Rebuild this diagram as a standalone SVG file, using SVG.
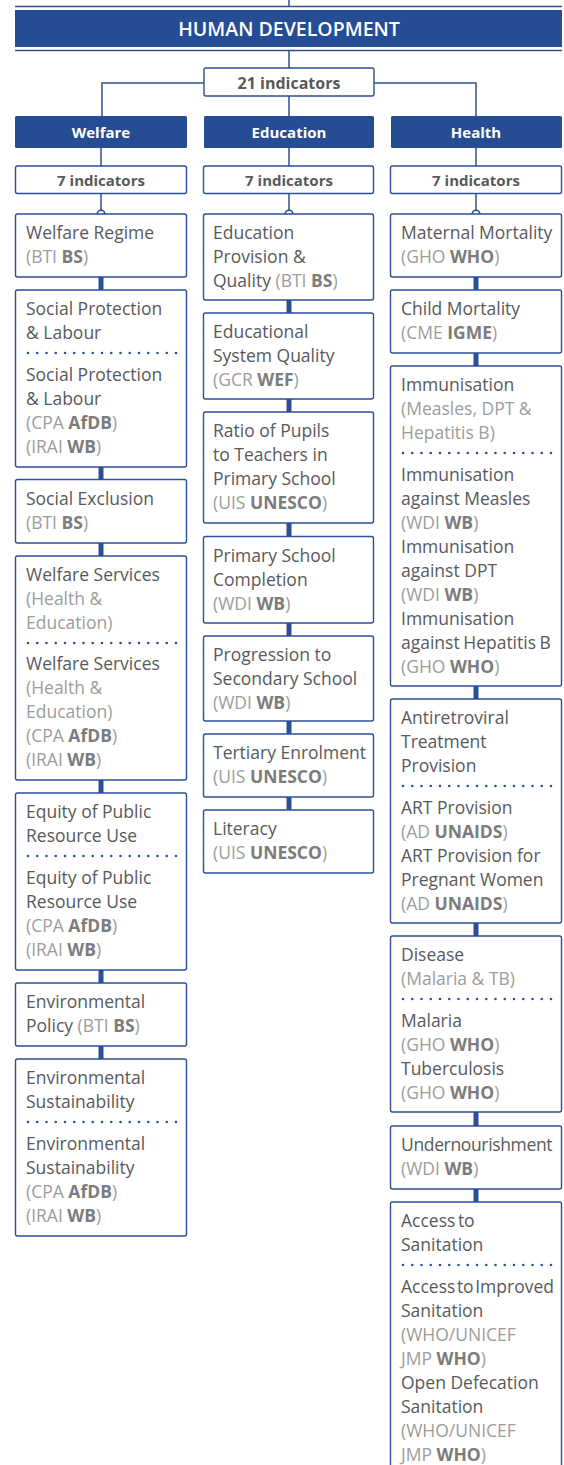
<svg xmlns="http://www.w3.org/2000/svg" width="564" height="1465" viewBox="0 0 564 1465">
<style>
.box{fill:#fff;stroke:#2b4f97;stroke-width:1.4}
.bar{fill:#264c93}
.t{font-family:"Open Sans","Noto Sans",sans-serif;font-size:17.5px;fill:#58595b}
.s{fill:#9c9c9c}
.b{font-weight:700;fill:#7c7c7c}
.hd{font-family:"Open Sans","Noto Sans",sans-serif;font-weight:700;fill:#fff;text-anchor:middle}
.ind{font-family:"Open Sans","Noto Sans",sans-serif;font-weight:700;fill:#58595b;text-anchor:middle}
.dots{stroke:#2b4f97;stroke-width:2.6;stroke-linecap:round;stroke-dasharray:0 9.25;fill:none}
.thick{stroke:#2b4f97;stroke-width:5;fill:none}
.thin{stroke:#2b4f97;stroke-width:1.5;fill:none}
.ring{fill:#fff;stroke:#2b4f97;stroke-width:1.6}
</style>
<g id="connectors">
<path class="thin" d="M289 0V7M289 50V68M204 83H102V116M374 83H476V116M289 96V116"/>
<path class="thin" d="M101 148V166M289 148V166M476 148V166M101 193.5V210M289 193.5V210M476 193.5V210"/>
<circle class="ring" cx="101" cy="214" r="3.8"/>
<circle class="ring" cx="289" cy="214" r="3.8"/>
<circle class="ring" cx="476" cy="214" r="3.8"/>
<path class="thick" d="M101 277V290M101 467V479.5M101 543V556M101 780V793M101 970V983M101 1046V1059"/>
<path class="thick" d="M289 300V313M289 399V412M289 523V536.5M289 623V636M289 721V734M289 797V810"/>
<path class="thick" d="M476 277V290M476 353V366M476 686V699M476 923V936M476 1112V1126M476 1189V1202"/>
</g>
<g id="header">
<path class="thin" d="M15 6.5H562M15 50.5H562"/>
<rect class="bar" x="15" y="10" width="547" height="37"/>
<text class="hd" x="289" y="35.5" style="font-size:19.5px;font-weight:600">HUMAN DEVELOPMENT</text>
</g>
<g id="total">
<rect class="box" x="204" y="68" width="170" height="28" rx="2"/>
<text class="ind" x="289" y="88.5" style="font-size:16px">21 indicators</text>
</g>
<g id="welfare-head">
<rect class="bar" x="15" y="116" width="172" height="32" rx="1.5"/>
<text class="hd" x="101" y="137.5" style="font-size:15px">Welfare</text>
</g>
<g id="education-head">
<rect class="bar" x="204" y="116" width="170" height="32" rx="1.5"/>
<text class="hd" x="289" y="137.5" style="font-size:15px">Education</text>
</g>
<g id="health-head">
<rect class="bar" x="391" y="116" width="171" height="32" rx="1.5"/>
<text class="hd" x="476" y="137.5" style="font-size:15px">Health</text>
</g>
<g id="welfare-count">
<rect class="box" x="15.5" y="166" width="171" height="27.5" rx="2"/>
<text class="ind" x="101" y="186" style="font-size:15px">7 indicators</text>
</g>
<g id="education-count">
<rect class="box" x="203.5" y="166" width="170" height="27.5" rx="2"/>
<text class="ind" x="289" y="186" style="font-size:15px">7 indicators</text>
</g>
<g id="health-count">
<rect class="box" x="390.5" y="166" width="171" height="27.5" rx="2"/>
<text class="ind" x="476" y="186" style="font-size:15px">7 indicators</text>
</g>

<g id="w1">
<rect class="box" x="15.5" y="214" width="171" height="63" rx="2"/>
<text class="t" x="26" y="239">Welfare Regime</text>
<text class="t s" x="26" y="263">(BTI <tspan class="b">BS</tspan>)</text>
</g>
<g id="w2">
<rect class="box" x="15.5" y="290" width="171" height="177" rx="2"/>
<text class="t" x="26" y="315">Social Protection</text>
<text class="t" x="26" y="339">&amp; Labour</text>
<path class="dots" d="M28 353H177"/>
<text class="t" x="26" y="381">Social Protection</text>
<text class="t" x="26" y="405">&amp; Labour</text>
<text class="t s" x="26" y="429">(CPA <tspan class="b">AfDB</tspan>)</text>
<text class="t s" x="26" y="453">(IRAI <tspan class="b">WB</tspan>)</text>
</g>
<g id="w3">
<rect class="box" x="15.5" y="479.5" width="171" height="63.5" rx="2"/>
<text class="t" x="26" y="505">Social Exclusion</text>
<text class="t s" x="26" y="529">(BTI <tspan class="b">BS</tspan>)</text>
</g>
<g id="w4">
<rect class="box" x="15.5" y="556" width="171" height="224" rx="2"/>
<text class="t" x="26" y="581">Welfare Services</text>
<text class="t s" x="26" y="605">(Health &amp;</text>
<text class="t s" x="26" y="629">Education)</text>
<path class="dots" d="M28 643H177"/>
<text class="t" x="26" y="670">Welfare Services</text>
<text class="t s" x="26" y="694">(Health &amp;</text>
<text class="t s" x="26" y="718">Education)</text>
<text class="t s" x="26" y="742">(CPA <tspan class="b">AfDB</tspan>)</text>
<text class="t s" x="26" y="766">(IRAI <tspan class="b">WB</tspan>)</text>
</g>
<g id="w5">
<rect class="box" x="15.5" y="793" width="171" height="177" rx="2"/>
<text class="t" x="26" y="818">Equity of Public</text>
<text class="t" x="26" y="842">Resource Use</text>
<path class="dots" d="M28 856H177"/>
<text class="t" x="26" y="884">Equity of Public</text>
<text class="t" x="26" y="908">Resource Use</text>
<text class="t s" x="26" y="932">(CPA <tspan class="b">AfDB</tspan>)</text>
<text class="t s" x="26" y="956">(IRAI <tspan class="b">WB</tspan>)</text>
</g>
<g id="w6">
<rect class="box" x="15.5" y="983" width="171" height="63" rx="2"/>
<text class="t" x="26" y="1008">Environmental</text>
<text class="t" x="26" y="1032">Policy <tspan class="s">(BTI <tspan class="b">BS</tspan>)</tspan></text>
</g>
<g id="w7">
<rect class="box" x="15.5" y="1059" width="171" height="177" rx="2"/>
<text class="t" x="26" y="1084">Environmental</text>
<text class="t" x="26" y="1108">Sustainability</text>
<path class="dots" d="M28 1122H177"/>
<text class="t" x="26" y="1150">Environmental</text>
<text class="t" x="26" y="1174">Sustainability</text>
<text class="t s" x="26" y="1198">(CPA <tspan class="b">AfDB</tspan>)</text>
<text class="t s" x="26" y="1222">(IRAI <tspan class="b">WB</tspan>)</text>
</g>

<g id="e1">
<rect class="box" x="203.5" y="214" width="170" height="86" rx="2"/>
<text class="t" x="213" y="239">Education</text>
<text class="t" x="213" y="263">Provision &amp;</text>
<text class="t" x="213" y="287">Quality <tspan class="s">(BTI <tspan class="b">BS</tspan>)</tspan></text>
</g>
<g id="e2">
<rect class="box" x="203.5" y="313" width="170" height="86" rx="2"/>
<text class="t" x="213" y="338">Educational</text>
<text class="t" x="213" y="362">System Quality</text>
<text class="t s" x="213" y="386">(GCR <tspan class="b">WEF</tspan>)</text>
</g>
<g id="e3">
<rect class="box" x="203.5" y="412" width="170" height="111" rx="2"/>
<text class="t" x="213" y="437">Ratio of Pupils</text>
<text class="t" x="213" y="461">to Teachers in</text>
<text class="t" x="213" y="485">Primary School</text>
<text class="t s" x="213" y="509">(UIS <tspan class="b">UNESCO</tspan>)</text>
</g>
<g id="e4">
<rect class="box" x="203.5" y="536.5" width="170" height="86.5" rx="2"/>
<text class="t" x="213" y="561.5">Primary School</text>
<text class="t" x="213" y="585.5">Completion</text>
<text class="t s" x="213" y="609.5">(WDI <tspan class="b">WB</tspan>)</text>
</g>
<g id="e5">
<rect class="box" x="203.5" y="636" width="170" height="85" rx="2"/>
<text class="t" x="213" y="661">Progression to</text>
<text class="t" x="213" y="685">Secondary School</text>
<text class="t s" x="213" y="709">(WDI <tspan class="b">WB</tspan>)</text>
</g>
<g id="e6">
<rect class="box" x="203.5" y="734" width="170" height="63" rx="2"/>
<text class="t" x="213" y="759">Tertiary Enrolment</text>
<text class="t s" x="213" y="783">(UIS <tspan class="b">UNESCO</tspan>)</text>
</g>
<g id="e7">
<rect class="box" x="203.5" y="810" width="170" height="63" rx="2"/>
<text class="t" x="213" y="835">Literacy</text>
<text class="t s" x="213" y="859">(UIS <tspan class="b">UNESCO</tspan>)</text>
</g>

<g id="h1">
<rect class="box" x="390.5" y="214" width="171" height="63" rx="2"/>
<text class="t" x="401" y="239">Maternal Mortality</text>
<text class="t s" x="401" y="263">(GHO <tspan class="b">WHO</tspan>)</text>
</g>
<g id="h2">
<rect class="box" x="390.5" y="290" width="171" height="63" rx="2"/>
<text class="t" x="401" y="315">Child Mortality</text>
<text class="t s" x="401" y="339">(CME <tspan class="b">IGME</tspan>)</text>
</g>
<g id="h3">
<rect class="box" x="390.5" y="366" width="171" height="320" rx="2"/>
<text class="t" x="401" y="391">Immunisation</text>
<text class="t s" x="401" y="415">(Measles, DPT &amp;</text>
<text class="t s" x="401" y="439">Hepatitis B)</text>
<path class="dots" d="M403 453H552"/>
<text class="t" x="401" y="481">Immunisation</text>
<text class="t" x="401" y="505">against Measles</text>
<text class="t s" x="401" y="529">(WDI <tspan class="b">WB</tspan>)</text>
<text class="t" x="401" y="553">Immunisation</text>
<text class="t" x="401" y="577">against DPT</text>
<text class="t s" x="401" y="601">(WDI <tspan class="b">WB</tspan>)</text>
<text class="t" x="401" y="625">Immunisation</text>
<text class="t" x="401" y="649" style="word-spacing:-1px">against Hepatitis B</text>
<text class="t s" x="401" y="673">(GHO <tspan class="b">WHO</tspan>)</text>
</g>
<g id="h4">
<rect class="box" x="390.5" y="699" width="171" height="224" rx="2"/>
<text class="t" x="401" y="724">Antiretroviral</text>
<text class="t" x="401" y="748">Treatment</text>
<text class="t" x="401" y="772">Provision</text>
<path class="dots" d="M403 786H552"/>
<text class="t" x="401" y="814">ART Provision</text>
<text class="t s" x="401" y="838">(AD <tspan class="b">UNAIDS</tspan>)</text>
<text class="t" x="401" y="862">ART Provision for</text>
<text class="t" x="401" y="886">Pregnant Women</text>
<text class="t s" x="401" y="910">(AD <tspan class="b">UNAIDS</tspan>)</text>
</g>
<g id="h5">
<rect class="box" x="390.5" y="936" width="171" height="176" rx="2"/>
<text class="t" x="401" y="961">Disease</text>
<text class="t s" x="401" y="985">(Malaria &amp; TB)</text>
<path class="dots" d="M403 999H552"/>
<text class="t" x="401" y="1027">Malaria</text>
<text class="t s" x="401" y="1051">(GHO <tspan class="b">WHO</tspan>)</text>
<text class="t" x="401" y="1075">Tuberculosis</text>
<text class="t s" x="401" y="1099">(GHO <tspan class="b">WHO</tspan>)</text>
</g>
<g id="h6">
<rect class="box" x="390.5" y="1126" width="171" height="63" rx="2"/>
<text class="t" x="401" y="1151" style="letter-spacing:-0.35px">Undernourishment</text>
<text class="t s" x="401" y="1175">(WDI <tspan class="b">WB</tspan>)</text>
</g>
<g id="h7">
<rect class="box" x="390.5" y="1202" width="171" height="280" rx="2"/>
<text class="t" x="401" y="1227" style="word-spacing:-2px">Access to</text>
<text class="t" x="401" y="1251">Sanitation</text>
<path class="dots" d="M403 1265H552"/>
<text class="t" x="401" y="1293" style="word-spacing:-3px">Access to Improved</text>
<text class="t" x="401" y="1317">Sanitation</text>
<text class="t s" x="401" y="1341">(WHO/UNICEF</text>
<text class="t s" x="401" y="1365">JMP <tspan class="b">WHO</tspan>)</text>
<text class="t" x="401" y="1389">Open Defecation</text>
<text class="t" x="401" y="1413">Sanitation</text>
<text class="t s" x="401" y="1437">(WHO/UNICEF</text>
<text class="t s" x="401" y="1461">JMP <tspan class="b">WHO</tspan>)</text>
</g>
</svg>
